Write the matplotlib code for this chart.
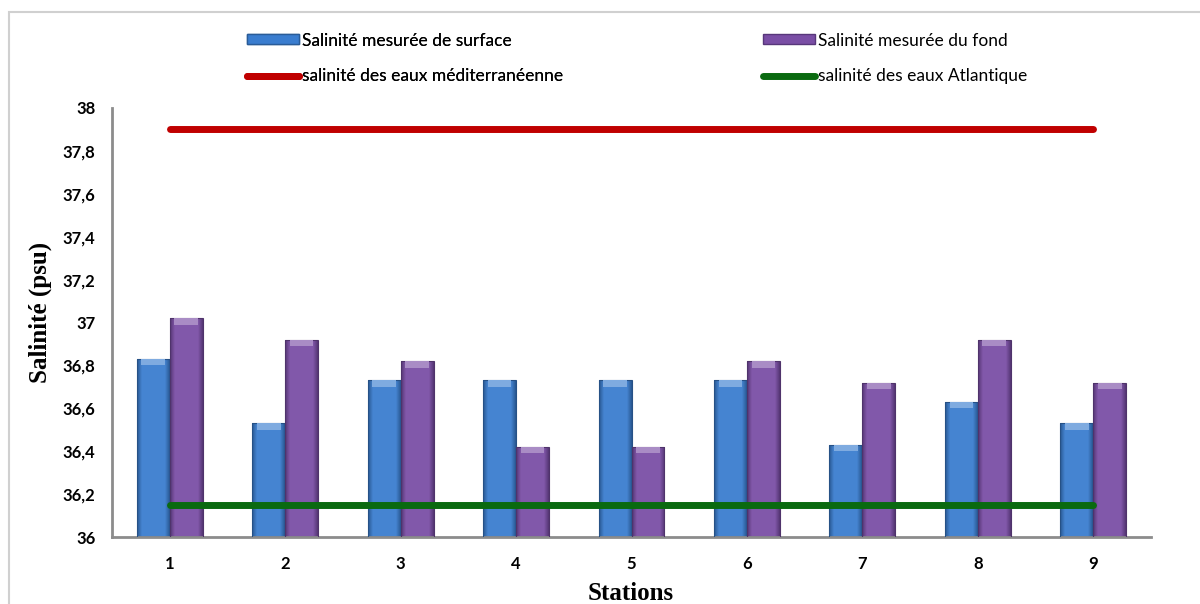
import numpy as np
import matplotlib
matplotlib.use("Agg")
import matplotlib.pyplot as plt
from matplotlib.patches import Rectangle
from matplotlib.lines import Line2D
from matplotlib.colors import to_rgb

stations = ["1", "2", "3", "4", "5", "6", "7", "8", "9"]
surface = [36.83, 36.53, 36.73, 36.73, 36.73, 36.73, 36.43, 36.63, 36.53]
bottom = [37.02, 36.92, 36.82, 36.42, 36.42, 36.82, 36.72, 36.92, 36.72]
mediterranean = 37.9
atlantic = 36.15
yticks = [36, 36.2, 36.4, 36.6, 36.8, 37, 37.2, 37.4, 37.6, 37.8, 38]
ytick_labels = ["36", "36,2", "36,4", "36,6", "36,8", "37", "37,2", "37,4", "37,6", "37,8", "38"]

BLUE = "#3a7dcf"
PURPLE = "#7a4ea5"
RED = "#c00000"
GREEN = "#0a6a10"
BASE = 36.0


def shaded_bar(ax, x, top, width, color):
    """Bar with a soft horizontal gradient and a light bevelled cap."""
    c = np.array(to_rgb(color))
    dark = c * 0.72
    light = np.clip(c + (1 - c) * 0.06, 0, 1)
    prof = np.concatenate([np.linspace(0, 1, 6), np.ones(24), np.linspace(1, 0, 6)])
    grad = dark[None, :] + (light - dark)[None, :] * prof[:, None]
    img = grad[None, :, :]
    im = ax.imshow(img, extent=(x - width / 2, x + width / 2, BASE, top),
                   aspect="auto", zorder=2, interpolation="bilinear")
    clip = Rectangle((x - width / 2, BASE), width, top - BASE,
                     transform=ax.transData, facecolor="none")
    im.set_clip_path(clip)
    ax.add_patch(Rectangle((x - width / 2, BASE), width, top - BASE,
                           facecolor="none", edgecolor=dark * 0.9, lw=0.8, zorder=3))
    cap = 0.03
    ax.add_patch(Rectangle((x - width / 2 + 0.04, top - cap), width - 0.08, cap,
                           facecolor=np.clip(c + (1 - c) * 0.35, 0, 1),
                           edgecolor="none", zorder=3))


fig = plt.figure(figsize=(12, 6.04), dpi=100)
ax = fig.add_axes([112 / 1200, 1 - 537 / 604, (1151 - 112) / 1200, (537 - 108) / 604])

x = np.arange(len(stations))
w = 0.285
for i in range(len(stations)):
    shaded_bar(ax, x[i] - w / 2, surface[i], w, BLUE)
    shaded_bar(ax, x[i] + w / 2, bottom[i], w, PURPLE)

ax.plot([x[0], x[-1]], [mediterranean] * 2, color=RED, lw=5,
        solid_capstyle="round", zorder=4)
ax.plot([x[0], x[-1]], [atlantic] * 2, color=GREEN, lw=5,
        solid_capstyle="round", zorder=4)

ax.set_xlim(-0.5, len(stations) - 0.5)
ax.set_ylim(36, 38)
ax.set_xticks(x)
ax.set_xticklabels(stations, fontfamily="Lato", fontweight="bold", fontsize=12)
ax.set_yticks(yticks)
ax.set_yticklabels(ytick_labels, fontfamily="Lato", fontweight="bold", fontsize=12)
ax.tick_params(length=0, pad=14)
ax.tick_params(axis="y", pad=12)
for side in ("top", "right"):
    ax.spines[side].set_visible(False)
for side in ("left", "bottom"):
    ax.spines[side].set_color("#8c8c8c")
    ax.spines[side].set_linewidth(2)

fig.text(40 / 1200, 1 - 312 / 604, "Salinité (psu)", rotation=90, ha="center",
         va="center", fontfamily="Liberation Serif", fontweight="bold", fontsize=18)
fig.text(631 / 1200, 1 - 594 / 604, "Stations", ha="center", va="center",
         fontfamily="Liberation Serif", fontweight="bold", fontsize=18)

# legend: two columns, each its own legend block
bar_h = [Rectangle((0, 0), 1, 1, facecolor=BLUE, edgecolor="#2a5c98"),
         Rectangle((0, 0), 1, 1, facecolor=PURPLE, edgecolor="#57377a")]
line_h = [Line2D([], [], color=RED, lw=5, solid_capstyle="round"),
          Line2D([], [], color=GREEN, lw=5, solid_capstyle="round")]
labels_left = ["Salinité mesurée de surface", "salinité des eaux méditerranéenne"]
labels_right = ["Salinité mesurée du fond", "salinité des eaux Atlantique"]
leg_kw = dict(loc="center left", frameon=False, prop={"family": "Lato", "size": 12.5},
              handlelength=3.0, handleheight=0.5, handletextpad=0.15,
              labelspacing=1.15, borderaxespad=0, borderpad=0)
leg1 = fig.legend([bar_h[0], line_h[0]], labels_left,
                  bbox_to_anchor=(247 / 1200, 1 - 58.5 / 604), **leg_kw)
fig.add_artist(leg1)
fig.legend([bar_h[1], line_h[1]], labels_right,
           bbox_to_anchor=(763 / 1200, 1 - 58.5 / 604), **leg_kw)

# chart area border
fig.patches.append(Rectangle((9 / 1200, -0.05), 1.2, 1 - 12 / 604 + 0.05,
                             transform=fig.transFigure, facecolor="none",
                             edgecolor="#d0d0d0", lw=1.5))

fig.savefig("out.png", dpi=100)
